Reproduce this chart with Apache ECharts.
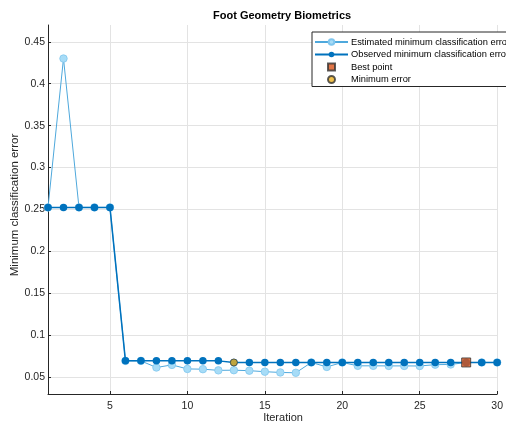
<!DOCTYPE html>
<html><head><meta charset="utf-8">
<script src="https://cdn.jsdelivr.net/npm/echarts@6/dist/echarts.min.js"></script>
<style>html,body{margin:0;padding:0;background:#fff}#c{width:506px;height:423px}</style>
</head><body><div id="c"></div>
<script>
const iterations = [1,2,3,4,5,6,7,8,9,10,11,12,13,14,15,16,17,18,19,20,21,22,23,24,25,26,27,28,29,30];
const estimated = [0.2525,0.43,0.2525,0.2525,0.2525,0.0695,0.0695,0.0616,0.0647,0.0599,0.0596,0.0582,0.0584,0.0578,0.0566,0.0557,0.0553,0.0676,0.0623,0.0676,0.0636,0.0636,0.0635,0.0635,0.0634,0.0650,0.0652,0.0676,0.0676,0.0676];
const observed = [0.2525,0.2525,0.2525,0.2525,0.2525,0.0695,0.0695,0.0695,0.0695,0.0695,0.0695,0.0695,0.0676,0.0676,0.0676,0.0676,0.0676,0.0676,0.0676,0.0676,0.0676,0.0676,0.0676,0.0676,0.0676,0.0676,0.0676,0.0676,0.0676,0.0676];
const bestPoint = [28, 0.0676];
const minError = [13, 0.0676];
const xTicks = [5,10,15,20,25,30];
const yTicks = [0.05,0.1,0.15,0.2,0.25,0.3,0.35,0.4,0.45];

const chart = echarts.init(document.getElementById('c'));
const font = 'Liberation Sans, Arial, sans-serif';
chart.setOption({
  animation: false,
  textStyle: {fontFamily: font},
  title: {text: 'Foot Geometry Biometrics', left: 208, top: 5,
    textStyle: {fontSize: 11, fontWeight: 'bold', color: '#000', fontFamily: font}},
  grid: {left: 48, top: 25, right: 5, bottom: 29, containLabel: false},
  legend: {
    orient: 'vertical', left: 312, top: 32,
    backgroundColor: '#fff', borderColor: '#262626', borderWidth: 1,
    padding: [4, 40, 1, 2], itemGap: 0.5, itemWidth: 33, itemHeight: 7,
    symbolKeepAspect: true,
    textStyle: {fontSize: 9.3, lineHeight: 12, color: '#000', fontFamily: font, padding: [0, 0, 0, -2]},
    data: [
      {name: 'Estimated minimum classification error'},
      {name: 'Observed minimum classification error'},
      {name: 'Best point', icon: 'path://M0,0L1,0L1,1L0,1Z'},
      {name: 'Minimum error', icon: 'circle'}
    ]
  },
  xAxis: {
    type: 'value', min: 1, max: 30,
    axisLine: {onZero: false, lineStyle: {color: '#262626', width: 1}},
    axisTick: {inside: true, length: 3, customValues: xTicks, lineStyle: {color: '#262626'}},
    axisLabel: {customValues: xTicks, fontSize: 10.5, color: '#262626', margin: 7},
    splitLine: {show: true, lineStyle: {color: '#e3e3e3', width: 1}}
  },
  yAxis: {
    type: 'value', min: 0.03, max: 0.47,
    axisLine: {show: true, onZero: false, lineStyle: {color: '#262626', width: 1}},
    axisTick: {show: true, inside: true, length: 3, customValues: yTicks, lineStyle: {color: '#262626'}},
    axisLabel: {customValues: yTicks, fontSize: 10.5, color: '#262626', margin: 3},
    splitLine: {show: true, lineStyle: {color: '#e3e3e3', width: 1}}
  },
  graphic: [
    {type: 'text', x: 15, y: 205, rotation: Math.PI / 2,
      style: {text: 'Minimum classification error', fontSize: 11.5, fill: '#262626', fontFamily: font, align: 'center', verticalAlign: 'middle'}},
    {type: 'text', x: 283, y: 418,
      style: {text: 'Iteration', fontSize: 11, fill: '#262626', fontFamily: font, align: 'center', verticalAlign: 'middle'}}
  ],
  series: [
    {name: 'Estimated minimum classification error', type: 'line',
      data: iterations.map((x, i) => [x, estimated[i]]),
      symbol: 'circle', symbolSize: 7.5,
      lineStyle: {color: '#4ea8dc', width: 1},
      itemStyle: {color: '#a7dcf7', borderColor: '#80c6ee', borderWidth: 0.8},
      z: 2},
    {name: 'Observed minimum classification error', type: 'line',
      data: iterations.map((x, i) => [x, observed[i]]),
      symbol: 'circle', symbolSize: 7.5,
      lineStyle: {color: '#0072bd', width: 1.5},
      itemStyle: {color: '#0072bd', borderColor: '#0072bd', borderWidth: 0},
      z: 3},
    {name: 'Best point', type: 'scatter', data: [bestPoint], symbol: 'rect', symbolSize: 9,
      itemStyle: {color: '#d95319', borderColor: '#333', borderWidth: 1}, z: 5},
    {name: 'Minimum error', type: 'scatter', data: [minError], symbol: 'circle', symbolSize: 7,
      itemStyle: {color: '#edb120', borderColor: '#333', borderWidth: 0.8}, z: 5}
  ]
});
</script></body></html>
